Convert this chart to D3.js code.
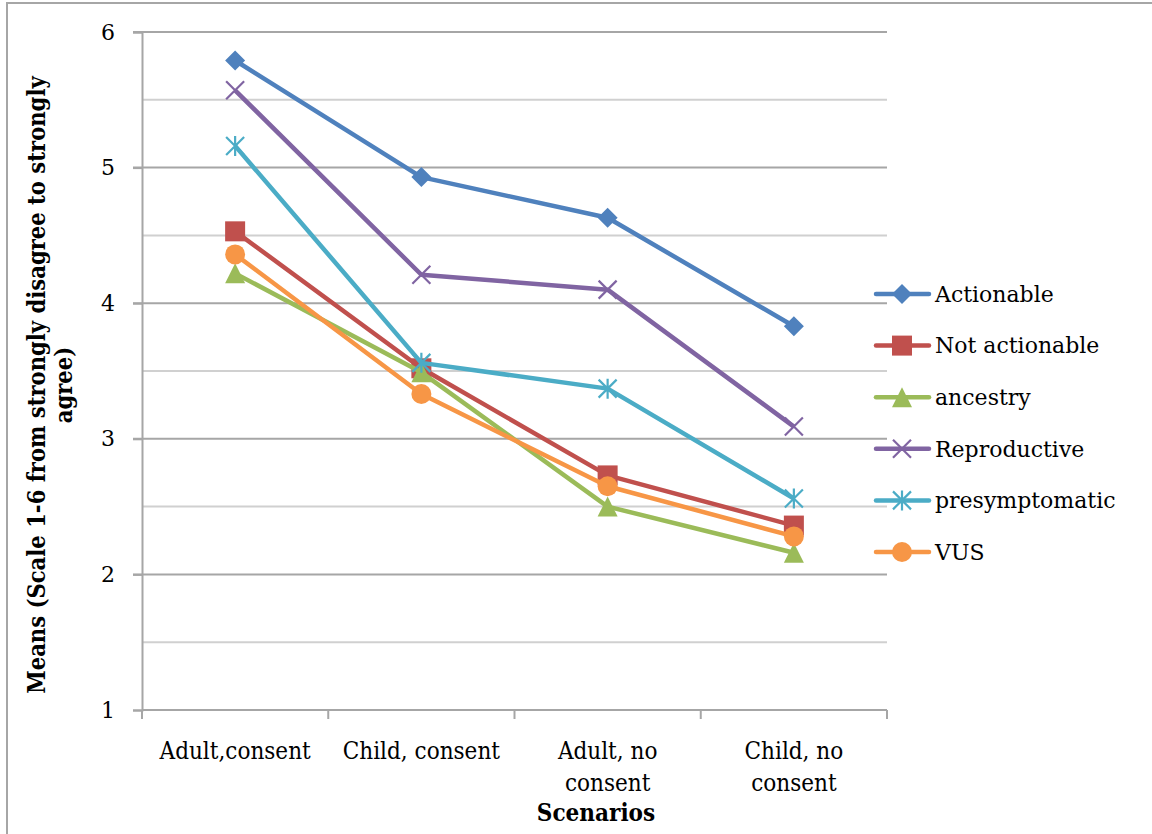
<!DOCTYPE html>
<html>
<head>
<meta charset="utf-8">
<script src="https://cdn.jsdelivr.net/npm/d3@7"></script>
<style>
  body { margin: 0; background: #fff; }
  .serif { font-family: "DejaVu Serif", "Liberation Serif", serif; }
  .cond { font-family: "DejaVu Serif Condensed", "DejaVu Serif", serif; font-stretch: condensed; }
</style>
</head>
<body>
<script>
//chart data
var scenarios = [["Adult,consent"], ["Child, consent"], ["Adult, no", "consent"], ["Child, no", "consent"]];
var seriesNames = ["Actionable", "Not actionable", "ancestry", "Reproductive", "presymptomatic", "VUS"];
var actionable     = [5.79, 4.93, 4.63, 3.83];
var notActionable  = [4.53, 3.52, 2.73, 2.36];
var ancestry       = [4.22, 3.49, 2.50, 2.16];
var reproductive   = [5.57, 4.21, 4.10, 3.09];
var presymptomatic = [5.16, 3.56, 3.37, 2.56];
var vus            = [4.36, 3.33, 2.65, 2.28];
var yTicks = [1, 2, 3, 4, 5, 6];

var seriesValues = [actionable, notActionable, ancestry, reproductive, presymptomatic, vus];
var colors = ["#4F81BD", "#C0504D", "#9BBB59", "#8064A2", "#4BACC6", "#F79646"];
var shapes = ["diamond", "square", "triangle", "cross", "star", "circle"];

var w = 1152, h = 834;
var plot = {left: 142, right: 887, top: 32, bottom: 710};

window.onload = function(){

    var svg = d3.select("body").append("svg")
        .attr("width", w)
        .attr("height", h);

    //outer chart frame (runs off right and bottom edge)
    svg.append("rect")
        .attr("x", 7).attr("y", 3)
        .attr("width", w + 10).attr("height", h + 10)
        .style("fill", "none")
        .style("stroke", "#a6a6a6")
        .style("stroke-width", 2);

    var x = d3.scaleBand()
        .domain(d3.range(scenarios.length))
        .range([plot.left, plot.right]);

    var y = d3.scaleLinear()
        .domain([1, 6])
        .range([plot.bottom, plot.top]);

    //minor gridlines at half steps
    svg.selectAll(".minor")
        .data(d3.range(1.5, 6, 1))
        .enter().append("line")
        .attr("class", "minor")
        .attr("x1", plot.left).attr("x2", plot.right)
        .attr("y1", function(d){ return y(d); })
        .attr("y2", function(d){ return y(d); })
        .style("stroke", "#d0d0d0")
        .style("stroke-width", 2);

    //major gridlines
    svg.selectAll(".major")
        .data(yTicks.slice(1))
        .enter().append("line")
        .attr("class", "major")
        .attr("x1", plot.left - 9).attr("x2", plot.right)
        .attr("y1", function(d){ return y(d); })
        .attr("y2", function(d){ return y(d); })
        .style("stroke", "#a6a6a6")
        .style("stroke-width", 2);

    //y axis
    var yAxis = svg.append("g")
        .attr("transform", "translate(" + plot.left + ",0)")
        .call(d3.axisLeft(y).tickValues(yTicks).tickSize(9).tickPadding(18).tickFormat(d3.format("d")));
    yAxis.select(".domain").style("stroke", "#a6a6a6").style("stroke-width", 2);
    yAxis.selectAll(".tick line").style("stroke", "#a6a6a6").style("stroke-width", 2);
    yAxis.selectAll("text")
        .attr("class", "serif")
        .style("font-size", "22px")
        .style("fill", "#000");

    //x axis with ticks between the categories
    var xAxis = svg.append("g")
        .attr("transform", "translate(0," + plot.bottom + ")");
    xAxis.append("line")
        .attr("x1", plot.left).attr("x2", plot.right)
        .style("stroke", "#a6a6a6").style("stroke-width", 2);
    xAxis.selectAll(".xtick")
        .data(d3.range(scenarios.length + 1))
        .enter().append("line")
        .attr("class", "xtick")
        .attr("x1", function(d){ return plot.left + d * x.bandwidth(); })
        .attr("x2", function(d){ return plot.left + d * x.bandwidth(); })
        .attr("y1", 0).attr("y2", 9)
        .style("stroke", "#a6a6a6").style("stroke-width", 2);

    var catLabels = svg.selectAll(".cat")
        .data(scenarios)
        .enter().append("text")
        .attr("class", "cat cond")
        .attr("text-anchor", "middle")
        .attr("transform", function(d, i){
            return "translate(" + (x(i) + x.bandwidth() / 2) + ",759)";
        })
        .style("font-size", "24px");
    catLabels.selectAll("tspan")
        .data(function(d){ return d; })
        .enter().append("tspan")
        .attr("x", 0)
        .attr("dy", function(d, i){ return i === 0 ? 0 : 32; })
        .text(function(d){ return d; });

    //axis titles
    svg.append("text")
        .attr("class", "cond")
        .attr("text-anchor", "middle")
        .attr("transform", "translate(596,821)")
        .style("font-size", "24px")
        .style("font-weight", "bold")
        .text("Scenarios");

    var yTitle = svg.append("text")
        .attr("class", "cond")
        .attr("text-anchor", "middle")
        .attr("transform", "translate(45,385) rotate(-90)")
        .style("font-size", "23.5px")
        .style("font-weight", "bold");
    yTitle.append("tspan").attr("x", 0).attr("dy", 0)
        .text("Means (Scale 1-6 from strongly disagree to strongly");
    yTitle.append("tspan").attr("x", 0).attr("dy", 27)
        .text("agree)");

    //marker drawing
    function marker(g, shape, color){
        var s = 10;
        if (shape === "diamond") {
            g.append("path").attr("d", "M0,-" + s + "L" + s + ",0L0," + s + "L-" + s + ",0Z").style("fill", color);
        } else if (shape === "square") {
            g.append("rect").attr("x", -s).attr("y", -s).attr("width", 2 * s).attr("height", 2 * s).style("fill", color);
        } else if (shape === "triangle") {
            g.append("path").attr("d", "M0,-" + s + "L" + s + "," + s + "L-" + s + "," + s + "Z").style("fill", color);
        } else if (shape === "circle") {
            g.append("circle").attr("r", s).style("fill", color);
        } else if (shape === "cross") {
            g.append("path").attr("d", "M-9,-9L9,9M-9,9L9,-9")
                .style("stroke", color).style("stroke-width", 2.2).style("fill", "none");
        } else if (shape === "star") {
            g.append("path").attr("d", "M-9,-9L9,9M-9,9L9,-9M0,-10L0,10")
                .style("stroke", color).style("stroke-width", 2.2).style("fill", "none");
        }
    }

    var line = d3.line()
        .x(function(d, i){ return x(i) + x.bandwidth() / 2; })
        .y(function(d){ return y(d); });

    seriesValues.forEach(function(vals, k){
        var g = svg.append("g").attr("class", "series");
        g.append("path")
            .datum(vals)
            .attr("d", line)
            .style("fill", "none")
            .style("stroke", colors[k])
            .style("stroke-width", 4.5)
            .style("stroke-linejoin", "round");
        g.selectAll(".pt")
            .data(vals)
            .enter().append("g")
            .attr("class", "pt")
            .attr("transform", function(d, i){
                return "translate(" + (x(i) + x.bandwidth() / 2) + "," + y(d) + ")";
            })
            .each(function(){ marker(d3.select(this), shapes[k], colors[k]); });
    });

    //legend
    var legend = svg.selectAll(".legend")
        .data(seriesNames)
        .enter().append("g")
        .attr("class", "legend")
        .attr("transform", function(d, i){ return "translate(876," + (294 + i * 51.6) + ")"; });
    legend.append("line")
        .attr("x1", 0).attr("x2", 53)
        .style("stroke", function(d, i){ return colors[i]; })
        .style("stroke-width", 4.5)
        .style("stroke-linecap", "round");
    legend.append("g")
        .attr("transform", "translate(26,0)")
        .each(function(d, i){ marker(d3.select(this), shapes[i], colors[i]); });
    legend.append("text")
        .attr("class", "serif")
        .attr("x", 59)
        .attr("dy", "0.35em")
        .style("font-size", "22px")
        .text(function(d){ return d; });
};
</script>
</body>
</html>
